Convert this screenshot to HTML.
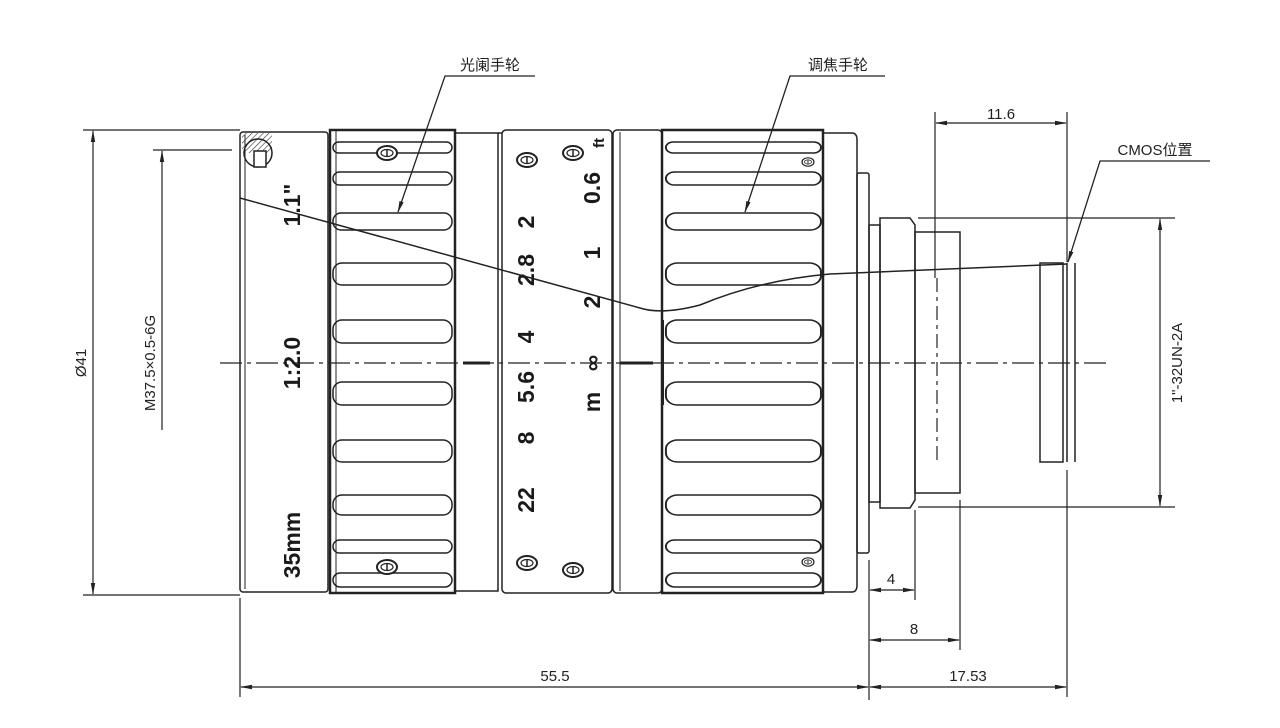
<!DOCTYPE html>
<html><head><meta charset="utf-8"><style>
html,body{margin:0;padding:0;background:#fff;}
svg{display:block}
text{font-family:"Liberation Sans","Noto Sans CJK SC",sans-serif;fill:#222}
.b{font-family:"Liberation Sans Narrow","Liberation Sans",sans-serif;font-weight:bold;font-size:23px;fill:#1a1a1a}
</style></head><body>
<svg width="1280" height="728" viewBox="0 0 1280 728" xmlns="http://www.w3.org/2000/svg">
<defs>
<marker id="a" markerWidth="12" markerHeight="6" refX="11" refY="3" orient="auto-start-reverse" markerUnits="userSpaceOnUse"><path d="M0,0.8 L12,3 L0,5.2 z" fill="#222"/></marker>
<pattern id="h" width="4" height="4" patternUnits="userSpaceOnUse" patternTransform="rotate(45)"><line x1="0" y1="0" x2="0" y2="4" stroke="#333" stroke-width="1.2"/></pattern>
<g id="scr"><ellipse cx="0" cy="0" rx="10" ry="7" fill="#fff" stroke="#222" stroke-width="2"/><ellipse cx="0" cy="0" rx="6" ry="3.5" fill="none" stroke="#222" stroke-width="1.2"/><line x1="0" y1="-4" x2="0" y2="4" stroke="#222" stroke-width="1.5"/></g>
</defs>
<g fill="none" stroke="#222" stroke-width="1.5">
<!-- front cap -->
<rect x="240" y="132" width="88" height="460" rx="3"/>
<line x1="245" y1="135" x2="245" y2="589" stroke-width="1"/>
<rect x="242" y="133" width="30" height="20" fill="url(#h)" stroke="none"/>
<circle cx="258" cy="153" r="14" stroke-width="1.5"/>
<rect x="254" y="151" width="12" height="16" fill="#fff"/>
<!-- aperture knurl -->
<rect x="330" y="130" width="125" height="463" stroke-width="2.5"/>
<line x1="336" y1="130" x2="336" y2="593" stroke-width="1"/>
<!-- band -->
<rect x="455" y="133" width="43" height="458"/>
<rect x="502" y="130" width="110" height="463" rx="4"/>
<line x1="498" y1="133" x2="502" y2="133"/>
<rect x="613" y="130" width="49" height="463" rx="4"/>
<line x1="620" y1="132" x2="620" y2="591" stroke-width="1"/>
<!-- focus knurl -->
<rect x="662" y="130" width="161" height="463" stroke-width="2.5"/>
<path d="M823,133 H852 Q857,133 857,140 V585 Q857,592 852,592 H823"/>
<rect x="857" y="173" width="12" height="380" rx="2"/>
<rect x="869" y="225" width="11" height="277"/>
<path d="M880,218 H910 L915,225 V500 L910,508 H880 Z"/>
<rect x="915" y="232" width="45" height="261"/>
<rect x="1040" y="263" width="23" height="199"/>
<line x1="1067" y1="263" x2="1067" y2="462"/>
<line x1="1075" y1="263" x2="1075" y2="462"/>
</g>
<g fill="none" stroke="#222" stroke-width="1.5">
<!-- grooves -->
<g id="gr">
<rect x="333" y="142" width="119" height="11" rx="5.5"/>
<rect x="333" y="172" width="119" height="13" rx="6.5"/>
<rect x="333" y="213" width="119" height="17" rx="8"/>
<rect x="333" y="263" width="119" height="22" rx="9"/>
<rect x="333" y="320" width="119" height="23" rx="9"/>
<rect x="333" y="382" width="119" height="23" rx="9"/>
<rect x="333" y="440" width="119" height="22" rx="9"/>
<rect x="333" y="495" width="119" height="20" rx="9"/>
<rect x="333" y="540" width="119" height="13" rx="6.5"/>
<rect x="333" y="573" width="119" height="14" rx="7"/>
</g>
<g transform="translate(662,0) scale(1.303,1) translate(-330,0)">
<rect x="333" y="142" width="119" height="11" rx="5.5"/>
<rect x="333" y="172" width="119" height="13" rx="6.5"/>
<rect x="333" y="213" width="119" height="17" rx="8"/>
<rect x="333" y="263" width="119" height="22" rx="9"/>
<rect x="333" y="320" width="119" height="23" rx="9"/>
<rect x="333" y="382" width="119" height="23" rx="9"/>
<rect x="333" y="440" width="119" height="22" rx="9"/>
<rect x="333" y="495" width="119" height="20" rx="9"/>
<rect x="333" y="540" width="119" height="13" rx="6.5"/>
<rect x="333" y="573" width="119" height="14" rx="7"/>
</g>
</g>
<use href="#scr" x="387" y="153"/><use href="#scr" x="387" y="567"/>
<use href="#scr" x="527" y="160"/><use href="#scr" x="573" y="153"/>
<use href="#scr" x="527" y="563"/><use href="#scr" x="573" y="570"/>
<g transform="translate(808,162) scale(0.6)"><use href="#scr"/></g>
<g transform="translate(808,562) scale(0.6)"><use href="#scr"/></g>
<!-- marks -->
<line x1="463" y1="363" x2="490" y2="363" stroke="#222" stroke-width="3"/>
<line x1="620" y1="363" x2="653" y2="363" stroke="#222" stroke-width="3"/>
<line x1="663" y1="320" x2="663" y2="405" stroke="#222" stroke-width="2"/>
<!-- centerline -->
<line x1="220" y1="363" x2="1110" y2="363" stroke="#222" stroke-width="1.2" stroke-dasharray="22,5,4,5"/>
<line x1="937" y1="278" x2="937" y2="460" stroke="#222" stroke-width="1.2" stroke-dasharray="14,5,4,5"/>
<!-- rotated texts -->
<g class="b">
<text class="b" transform="translate(300,205) rotate(-90)" text-anchor="middle">1.1"</text>
<text class="b" transform="translate(300,363) rotate(-90)" text-anchor="middle">1:2.0</text>
<text class="b" transform="translate(300,545) rotate(-90)" text-anchor="middle">35mm</text>
<text class="b" transform="translate(534,222) rotate(-90)" text-anchor="middle">2</text>
<text class="b" transform="translate(534,270) rotate(-90)" text-anchor="middle">2.8</text>
<text class="b" transform="translate(534,337) rotate(-90)" text-anchor="middle">4</text>
<text class="b" transform="translate(534,387) rotate(-90)" text-anchor="middle">5.6</text>
<text class="b" transform="translate(534,438) rotate(-90)" text-anchor="middle">8</text>
<text class="b" transform="translate(534,500) rotate(-90)" text-anchor="middle">22</text>
<text class="b" transform="translate(600,188) rotate(-90)" text-anchor="middle">0.6</text>
<text class="b" transform="translate(600,253) rotate(-90)" text-anchor="middle">1</text>
<text class="b" transform="translate(600,302) rotate(-90)" text-anchor="middle">2</text>
<text class="b" transform="translate(600,363) rotate(-90)" text-anchor="middle">∞</text>
<text class="b" transform="translate(600,402) rotate(-90)" text-anchor="middle">m</text>
<text class="b" transform="translate(604,143) rotate(-90)" text-anchor="middle" style="font-size:15px">ft</text>
</g>
<!-- cross line -->
<path d="M240,198 L640,308 Q662,315 700,305 Q760,280 830,274 L1067,264" fill="none" stroke="#222" stroke-width="1.5"/>
<!-- leaders -->
<g fill="none" stroke="#222" stroke-width="1.3">
<path d="M535,76 H445 L398,212" marker-end="url(#a)"/>
<path d="M885,76 H790 L745,212" marker-end="url(#a)"/>
<path d="M1210,161 H1100 L1068,262" marker-end="url(#a)"/>
</g>
<text x="490" y="70" text-anchor="middle" font-size="15">光阑手轮</text>
<text x="838" y="70" text-anchor="middle" font-size="15">调焦手轮</text>
<text x="1155" y="155" text-anchor="middle" font-size="15">CMOS位置</text>
<!-- dimensions -->
<g fill="none" stroke="#222" stroke-width="1.2">
<line x1="83" y1="130" x2="240" y2="130"/><line x1="83" y1="595" x2="240" y2="595"/>
<line x1="93" y1="131" x2="93" y2="594" marker-start="url(#a)" marker-end="url(#a)"/>
<line x1="153" y1="150" x2="232" y2="150"/>
<line x1="162" y1="151" x2="162" y2="430" marker-start="url(#a)"/>
<line x1="240" y1="598" x2="240" y2="697"/>
<line x1="869" y1="560" x2="869" y2="700"/>
<line x1="915" y1="510" x2="915" y2="600"/>
<line x1="960" y1="500" x2="960" y2="650"/>
<line x1="1067" y1="470" x2="1067" y2="697"/>
<line x1="241" y1="687" x2="868" y2="687" marker-start="url(#a)" marker-end="url(#a)"/>
<line x1="870" y1="687" x2="1066" y2="687" marker-start="url(#a)" marker-end="url(#a)"/>
<line x1="870" y1="590" x2="914" y2="590" marker-start="url(#a)" marker-end="url(#a)"/>
<line x1="870" y1="640" x2="959" y2="640" marker-start="url(#a)" marker-end="url(#a)"/>
<line x1="935" y1="112" x2="935" y2="278"/>
<line x1="1067" y1="112" x2="1067" y2="262"/>
<line x1="936" y1="123" x2="1066" y2="123" marker-start="url(#a)" marker-end="url(#a)"/>
<line x1="918" y1="218" x2="1175" y2="218"/>
<line x1="918" y1="507" x2="1175" y2="507"/>
<line x1="1160" y1="219" x2="1160" y2="506" marker-start="url(#a)" marker-end="url(#a)"/>
</g>
<g font-size="15">
<text transform="translate(86,363) rotate(-90)" text-anchor="middle">Ø41</text>
<text transform="translate(155,363) rotate(-90)" text-anchor="middle">M37.5×0.5-6G</text>
<text transform="translate(1182,363) rotate(-90)" text-anchor="middle">1"-32UN-2A</text>
<text x="555" y="681" text-anchor="middle">55.5</text>
<text x="968" y="681" text-anchor="middle">17.53</text>
<text x="891" y="584" text-anchor="middle">4</text>
<text x="914" y="634" text-anchor="middle">8</text>
<text x="1001" y="119" text-anchor="middle">11.6</text>
</g>
</svg>
</body></html>
